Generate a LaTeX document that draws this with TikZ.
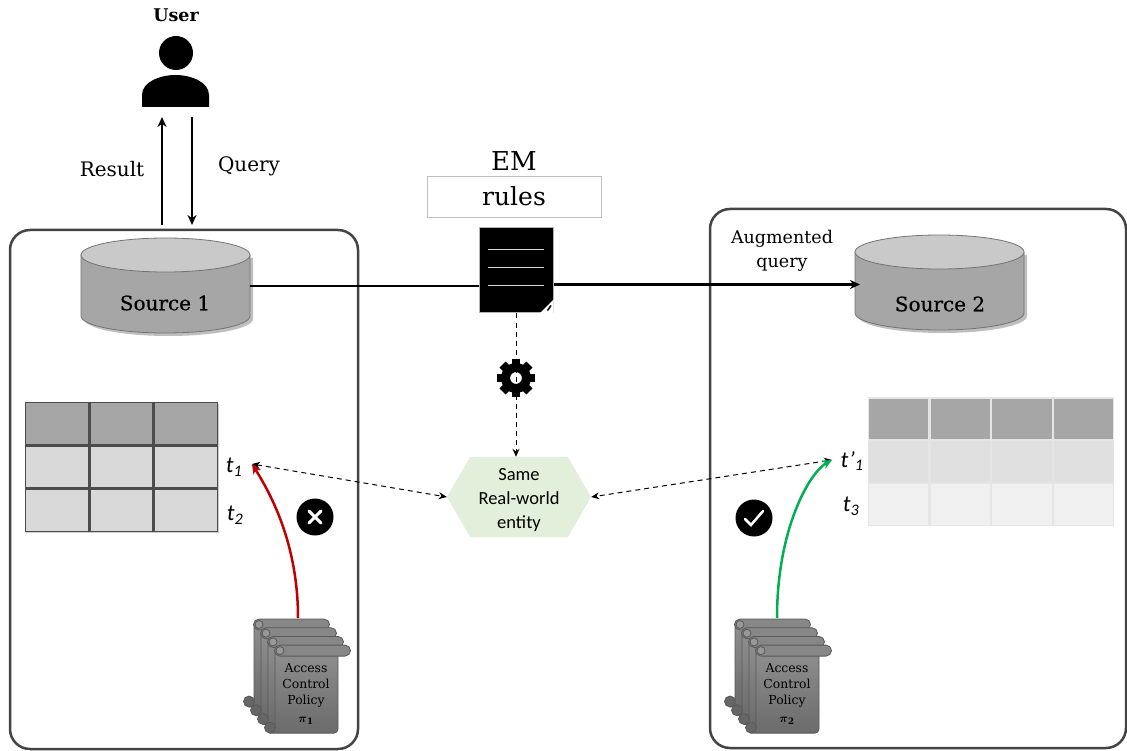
\documentclass[tikz,border=0pt]{standalone}
\usepackage{amsmath}
\usepackage{fontspec}
\setmainfont{DejaVu Serif}
\newfontfamily\srcfont[FakeBold=0.4]{DejaVu Serif}
\newfontfamily\calibrifont{Carlito}
\usepackage{tikz}
\usetikzlibrary{matrix}
\usetikzlibrary{calc,positioning,arrows.meta,shapes.geometric,%
		shapes.symbols,shapes,shadows}
\definecolor{boxline}{HTML}{444444}
\definecolor{cylbody}{HTML}{A6A6A6}
\definecolor{cyltop}{HTML}{C9C9C9}
\definecolor{tabhead}{HTML}{A6A6A6}
\definecolor{tabrow}{HTML}{D9D9D9}
\definecolor{hexfill}{HTML}{E2EFDA}
\definecolor{denyred}{HTML}{C00000}
\definecolor{grantgreen}{HTML}{00B050}
\newcommand{\tfs}[1]{\fontsize{#1}{#1}\selectfont}
\tikzset{
	srcbox/.style={draw=boxline,line width=2.5pt,rounded corners=20pt,fill=white},
	lbl/.style={font=\tfs{20},inner sep=0pt},
	tlbl/.style={font=\calibrifont\itshape\tfs{23},inner sep=0pt},
	solidarrow/.style={-{Stealth[length=10pt,width=9pt]},line width=2.2pt},
	dashline/.style={line width=1pt,dash pattern=on 5pt off 4pt},
	badge/.style={circle,fill=black,minimum size=37pt,inner sep=0pt},
	dbcyl/.pic={
		\fill[black,opacity=0.25] (3,20) -- (3,81) arc (180:0:84.5 and 17) -- (172,20) -- cycle;
		\draw[draw=black!55,fill=cylbody,line width=0.8pt] (0,17) -- (0,78) arc (180:0:84.5 and 17) -- (169,17) -- cycle;
		\draw[draw=black!55,fill=cyltop,line width=0.8pt] (84.5,17) ellipse (84.5 and 17);
	},
	policyscroll/.pic={
		\draw[draw=black!65,top color=black!44,bottom color=black!58,line width=0.8pt] (0,5) -- (63,5) -- (63,84) arc (0:90:4) -- (-5,88) -- (-5,83) -- (0,83) -- cycle;
		\draw[draw=black!65,fill=black!47,line width=0.8pt] (5,0) -- (70,0) arc (-90:90:5.5) -- (5,11) arc (90:270:5.5) -- cycle;
		\draw[draw=black!65,fill=black!40,line width=0.8pt] (5,5.5) circle (4);
		\draw[draw=black!65,fill=black!60,line width=0.8pt] (-5,82.5) circle (5.5);
	},
}
\begin{document}
\begin{tikzpicture}[x=1pt,y=-1pt]
		\useasboundingbox (0,0) rectangle (1127,751);
		\node[srcbox,minimum width=348pt,minimum height=519pt] (box1) at (184,489.5) {};
		\node[srcbox,minimum width=416pt,minimum height=539pt] (box2) at (918,478.5) {};
		% user on top
		\node[lbl,font=\tfs{17.5}\bfseries] (user) at (176,15) {User};
		\node[circle,fill=black,minimum size=34pt,inner sep=0pt] (userhead) at (176,53) {};
		\fill (142,107) -- (142,95) .. controls (142,82) and (160,75) .. (175.5,75) .. controls (191,75) and (209,82) .. (209,95) -- (209,107) -- cycle;
		\coordinate (resultfrom) at (162,225);
		\coordinate (resultto) at (162,117);
		\coordinate (queryfrom) at (192,117);
		\coordinate (queryto) at (192,225);
		\path[solidarrow]
		(resultfrom) edge (resultto)
		(queryfrom) edge (queryto);
		\node[lbl] (result) at (112,169) {Result};
		\node[lbl] (query) at (249,166.5) {Query};
		% sources
		\pic at (81,238) {dbcyl};
		\node[lbl,font=\srcfont\tfs{20}] (src1) at (165,303) {Source 1};
		\pic at (855,235) {dbcyl};
		\node[lbl,font=\srcfont\tfs{20}] (src2) at (940,304) {Source 2};
		\coordinate (src1r) at (250,286);
		\coordinate (src2l) at (855,284.5);
		\node[font=\tfs{17.5},align=center,inner sep=0pt] (augq) at (782,251) {Augmented\\[6pt]query};
		% rules
		\node[lbl,font=\tfs{26}] (em) at (514,161) {EM};
		\node[draw=black!25,minimum width=174pt,minimum height=41pt,inner sep=0pt,font=\tfs{25}] (rules) at (514,196.5) {rules};
		\node[draw=black!30,fill=black,line width=1pt,minimum width=74pt,minimum height=85pt,inner sep=0pt] (doc) at (516,270.5) {};
		\foreach \ly in {-21,-3,15}
			\draw[white!85!black,line width=1pt] ($(doc.center)+(-28,\ly)$) -- ($(doc.center)+(28,\ly)$);
		\fill[white] ($(doc.south east)+(-14,0)$) -- ($(doc.south east)+(0,-14)$) -- (doc.south east) -- cycle;
		\draw[black,line width=1.5pt] ($(doc.south east)+(-6,-3)$) -- ($(doc.south east)+(-2.5,-8)$);
		\path[line width=2.2pt]
		(src1r) edge (src1r -| doc.west);
		\draw[solidarrow,shorten >=-5pt] (src2l -| doc.east) -- (src2l);
		% matching
		\node[circle,draw=black,line width=9pt,fill=white,minimum size=21pt,inner sep=0pt] (gear) at (516,378) {};
		\foreach \ga in {0,45,...,315}
			\draw[line width=8.5pt] ($(gear.center)+(\ga:10)$) -- ($(gear.center)+(\ga:19)$);
		\node[signal,signal to=east and west,signal pointer angle=120,fill=hexfill,minimum width=144pt,minimum height=80pt,inner sep=0pt,align=center,font=\calibrifont\tfs{18.5}] (same) at (519,497) {\rule{0pt}{17pt}Same\\[5.5pt]Real-world\\[5.5pt]entity};
		\draw[-{Stealth[length=8pt,width=7pt]},dashline] (doc.south) -- (doc.south |- same.north);
		% tables
		\matrix (tab1) [matrix of nodes,nodes in empty cells,row sep=0pt,column sep=0pt,inner sep=0pt,
			nodes={draw=black!70,line width=1.2pt,fill=tabrow,minimum width=63.1pt,minimum height=42.1pt,inner sep=0pt,outer sep=0pt},
			row 1/.style={nodes={fill=tabhead}},
			drop shadow={opacity=0.4,shadow xshift=1pt,shadow yshift=-1.5pt}] at (121.5,467)
		{
			& & \\
			& & \\
			& & \\};
		\matrix (tab2) [matrix of nodes,nodes in empty cells,row sep=0pt,column sep=0pt,inner sep=0pt,
			nodes={draw=white!90!black,line width=1.2pt,minimum width=60.5pt,minimum height=41.6pt,inner sep=0pt,outer sep=0pt},
			row 1/.style={nodes={fill=tabhead}},
			row 2/.style={nodes={fill=black!12}},
			row 3/.style={nodes={fill=black!6}}] at (991,461.5)
		{
			& & & \\
			& & & \\
			& & & \\};
		\node[tlbl] (t1) at (234,467) {t\textsubscript{1}};
		\node[tlbl] (t2) at (235,515) {t\textsubscript{2}};
		\node[tlbl] (t1p) at (852,461) {t’\textsubscript{1}};
		\node[tlbl] (t3) at (851,506) {t\textsubscript{3}};
		\coordinate (t1mark) at (252,464);
		\coordinate (t1pmark) at (832,460);
		\path[{Stealth[length=8pt,width=7pt]}-{Stealth[length=8pt,width=7pt]},dashline]
		(t1mark) edge (same.west)
		(t1pmark) edge (same.east);
		% policies
		\foreach \sn in {0,1,2,3} {
			\pic at ({254+7*\sn},{619+8.7*\sn}) {policyscroll};
			\pic at ({735+7*\sn},{619+8.7*\sn}) {policyscroll};
		}
		\node[font=\tfs{12.4},align=center,inner sep=0pt] (pol1) at (306,694) {Access\\[3.6pt]Control\\[3.6pt]Policy\\[5pt]$\boldsymbol{\pi}_{\mathbf 1}$};
		\node[font=\tfs{12.4},align=center,inner sep=0pt] (pol2) at (787,694) {Access\\[3.6pt]Control\\[3.6pt]Policy\\[5pt]$\boldsymbol{\pi}_{\mathbf 2}$};
		\coordinate (pol1top) at (298,618);
		\coordinate (pol2top) at (777,618);
		\draw[-{Stealth[length=10pt,width=9pt]},draw=denyred,line width=2.5pt] (pol1top) .. controls +(0,-70) and +(22,35) .. (t1mark);
		\draw[-{Stealth[length=10pt,width=9pt]},draw=grantgreen,line width=2.5pt] (pol2top) .. controls +(0,-90) and +(-22,12) .. (t1pmark);
		% decision marks
		\node[badge] (deny) at (315,517) {};
		\draw[white,line width=3pt,line cap=round] ($(deny.center)+(-6,-6)$) -- ($(deny.center)+(6,6)$) ($(deny.center)+(-6,6)$) -- ($(deny.center)+(6,-6)$);
		\node[badge] (grant) at (754,518) {};
		\draw[white,line width=2.5pt,line cap=round] ($(grant.center)+(-9,1)$) -- ($(grant.center)+(-3,7)$) -- ($(grant.center)+(9,-7)$);
	\end{tikzpicture}
\end{document}
